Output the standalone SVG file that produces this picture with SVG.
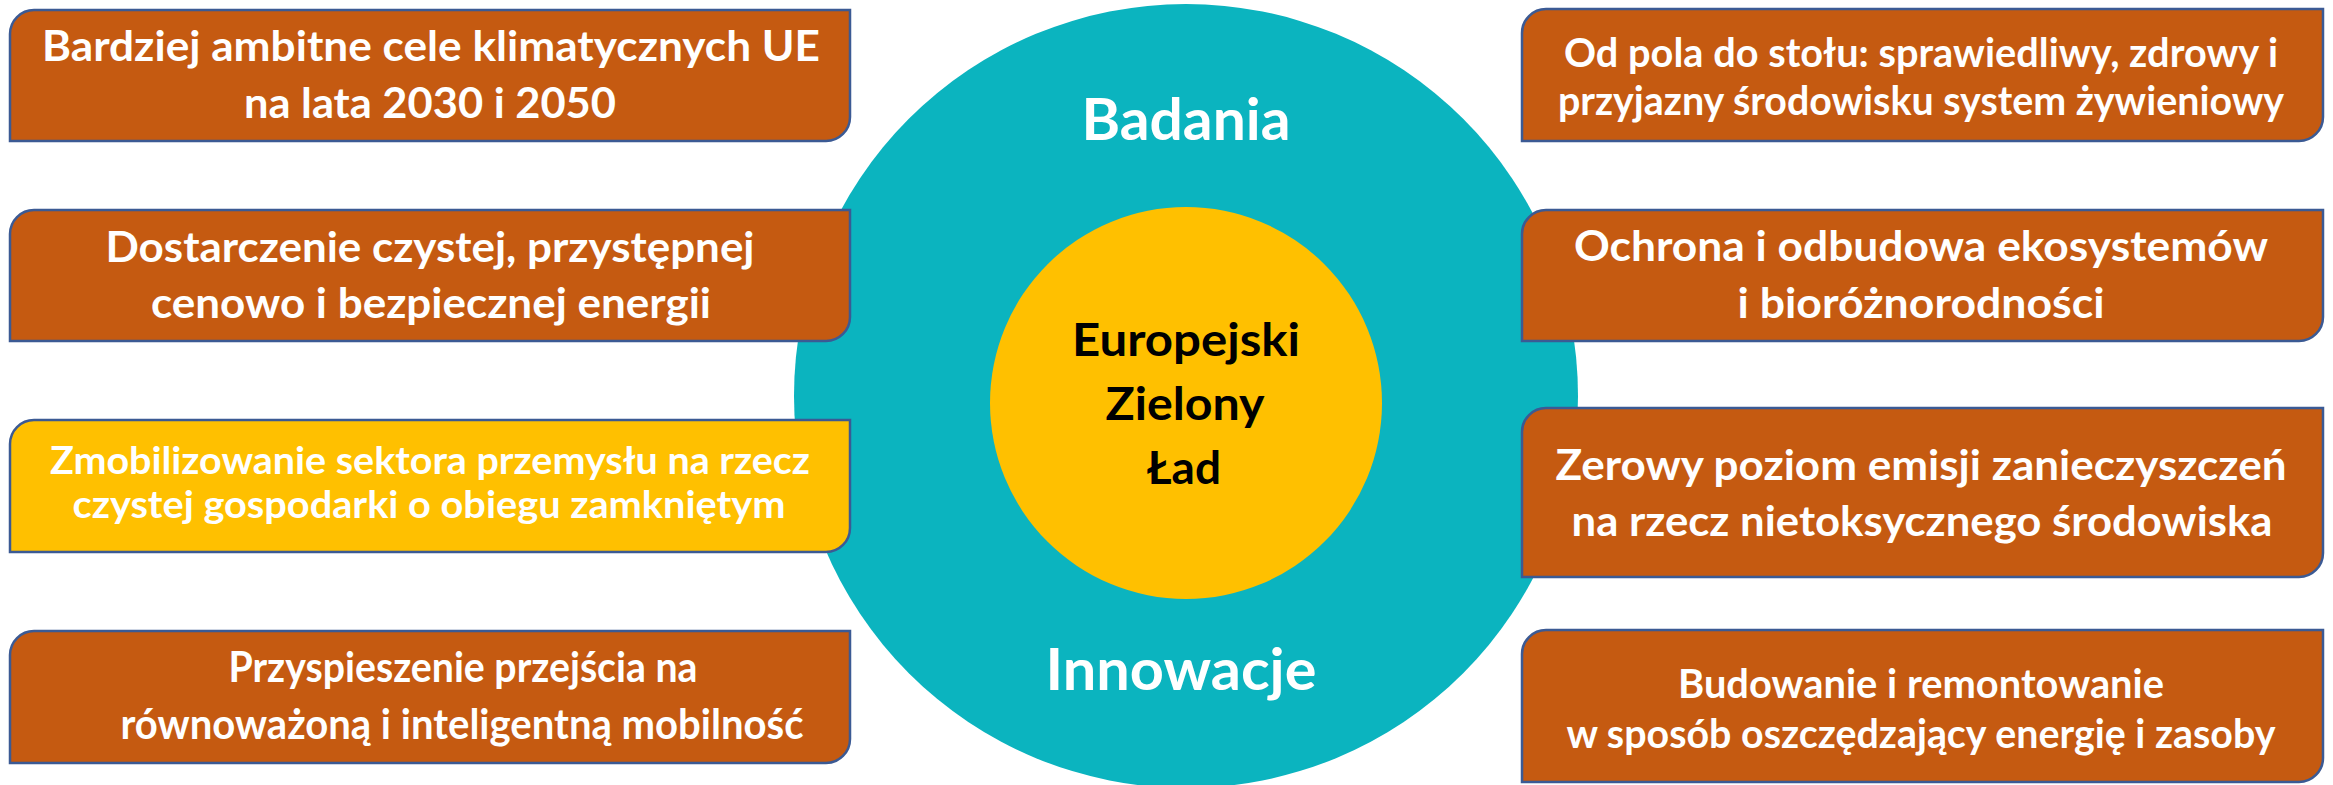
<svg xmlns="http://www.w3.org/2000/svg" width="2333" height="785" viewBox="0 0 2333 785">
  <style>
    .box { fill: #C55A11; stroke: #3B5A94; stroke-width: 2.5; }
    .box.hl { fill: #FFC000; }
    .t { font-family: Lato, "Liberation Sans", sans-serif; font-weight: 700; fill: #FFFFFF; text-anchor: middle; }
    .t42 { font-size: 42px; }
    .t41 { font-size: 41px; }
    .t38 { font-size: 38px; }
    .t40 { font-size: 40px; }
    .big { font-size: 57px; }
    .core { font-size: 45px; fill: #000000; }
  </style>

  <!-- central rings -->
  <g id="ring">
    <circle cx="1186" cy="396" r="392" fill="#0BB4BF"/>
    <text class="t big" x="1186" y="140" textLength="209" lengthAdjust="spacingAndGlyphs">Badania</text>
    <text class="t big" x="1181" y="690" textLength="271" lengthAdjust="spacingAndGlyphs">Innowacje</text>
  </g>
  <g id="core">
    <circle cx="1186" cy="403" r="196" fill="#FFC000"/>
    <text class="t core" x="1186" y="356" textLength="228" lengthAdjust="spacingAndGlyphs">Europejski</text>
    <text class="t core" x="1185" y="420" textLength="159" lengthAdjust="spacingAndGlyphs">Zielony</text>
    <text class="t core" x="1184" y="484" textLength="74" lengthAdjust="spacingAndGlyphs">Ład</text>
  </g>

  <!-- left column -->
  <g id="climate-targets">
    <path class="box" d="M34 10 H850 V117 A24 24 0 0 1 826 141 H10 V34 A24 24 0 0 1 34 10 Z"/>
    <text class="t t42" x="431" y="61" textLength="778" lengthAdjust="spacingAndGlyphs">Bardziej ambitne cele klimatycznych UE</text>
    <text class="t t42" x="430" y="118" textLength="372" lengthAdjust="spacingAndGlyphs">na lata 2030 i 2050</text>
  </g>
  <g id="clean-energy">
    <path class="box" d="M34 210 H850 V317 A24 24 0 0 1 826 341 H10 V234 A24 24 0 0 1 34 210 Z"/>
    <text class="t t42" x="430" y="262" textLength="649" lengthAdjust="spacingAndGlyphs">Dostarczenie czystej, przystępnej</text>
    <text class="t t42" x="431" y="318" textLength="560" lengthAdjust="spacingAndGlyphs">cenowo i bezpiecznej energii</text>
  </g>
  <g id="circular-industry">
    <path class="box hl" d="M34 420 H850 V528 A24 24 0 0 1 826 552 H10 V444 A24 24 0 0 1 34 420 Z"/>
    <text class="t t38" x="430" y="474" textLength="760" lengthAdjust="spacingAndGlyphs">Zmobilizowanie sektora przemysłu na rzecz</text>
    <text class="t t38" x="429" y="518" textLength="713" lengthAdjust="spacingAndGlyphs">czystej gospodarki o obiegu zamkniętym</text>
  </g>
  <g id="mobility">
    <path class="box" d="M34 631 H850 V739 A24 24 0 0 1 826 763 H10 V655 A24 24 0 0 1 34 631 Z"/>
    <text class="t t42" x="463" y="682" textLength="469" lengthAdjust="spacingAndGlyphs">Przyspieszenie przejścia na</text>
    <text class="t t42" x="462" y="739" textLength="683" lengthAdjust="spacingAndGlyphs">równoważoną i inteligentną mobilność</text>
  </g>

  <!-- right column -->
  <g id="farm-to-fork">
    <path class="box" d="M1546 9 H2323 V117 A24 24 0 0 1 2299 141 H1522 V33 A24 24 0 0 1 1546 9 Z"/>
    <text class="t t41" x="1921" y="67" textLength="714" lengthAdjust="spacingAndGlyphs">Od pola do stołu: sprawiedliwy, zdrowy i</text>
    <text class="t t41" x="1921" y="115" textLength="726" lengthAdjust="spacingAndGlyphs">przyjazny środowisku system żywieniowy</text>
  </g>
  <g id="biodiversity">
    <path class="box" d="M1546 210 H2323 V317 A24 24 0 0 1 2299 341 H1522 V234 A24 24 0 0 1 1546 210 Z"/>
    <text class="t t42" x="1921" y="261" textLength="694" lengthAdjust="spacingAndGlyphs">Ochrona i odbudowa ekosystemów</text>
    <text class="t t42" x="1921" y="318" textLength="367" lengthAdjust="spacingAndGlyphs">i bioróżnorodności</text>
  </g>
  <g id="zero-pollution">
    <path class="box" d="M1546 408 H2323 V553 A24 24 0 0 1 2299 577 H1522 V432 A24 24 0 0 1 1546 408 Z"/>
    <text class="t t42" x="1921" y="480" textLength="731" lengthAdjust="spacingAndGlyphs">Zerowy poziom emisji zanieczyszczeń</text>
    <text class="t t42" x="1922" y="536" textLength="701" lengthAdjust="spacingAndGlyphs">na rzecz nietoksycznego środowiska</text>
  </g>
  <g id="buildings">
    <path class="box" d="M1546 630 H2323 V758 A24 24 0 0 1 2299 782 H1522 V654 A24 24 0 0 1 1546 630 Z"/>
    <text class="t t40" x="1921" y="698" textLength="486" lengthAdjust="spacingAndGlyphs">Budowanie i remontowanie</text>
    <text class="t t40" x="1921" y="748" textLength="709" lengthAdjust="spacingAndGlyphs">w sposób oszczędzający energię i zasoby</text>
  </g>

  <!-- no connectors in this layout -->
  <g id="connectors"/>
</svg>
